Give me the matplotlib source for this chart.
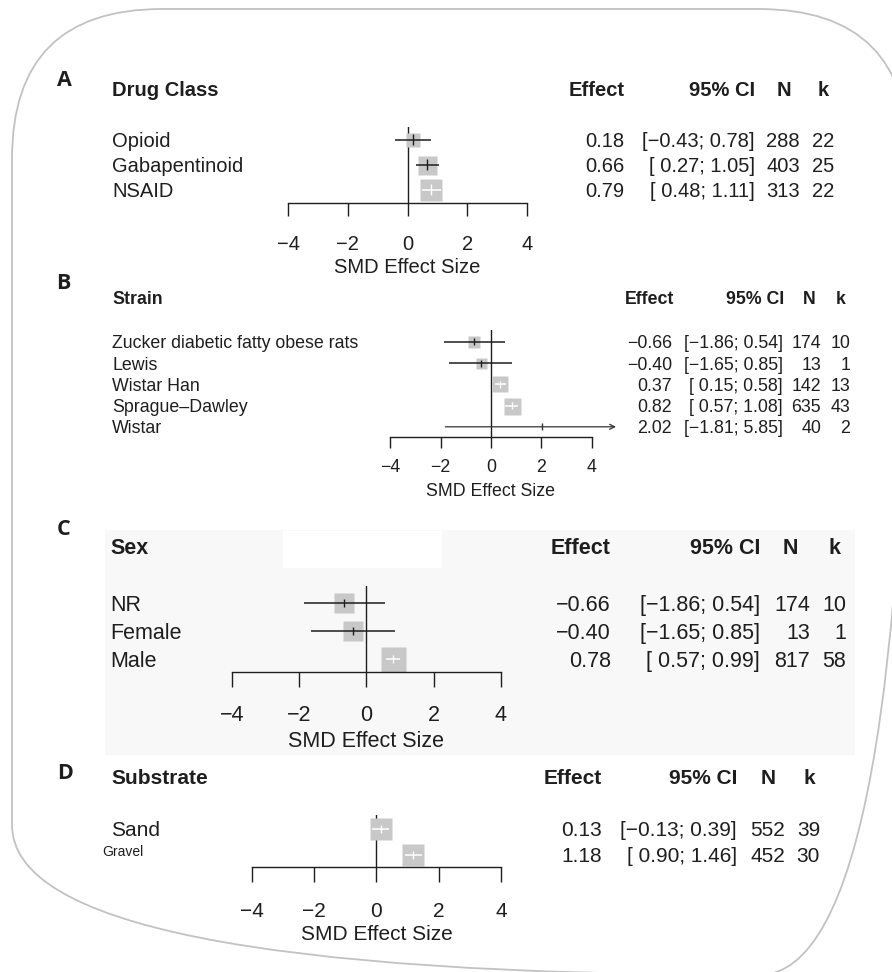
import matplotlib
matplotlib.use('Agg')
import matplotlib.pyplot as plt
from matplotlib.patches import FancyBboxPatch, Rectangle

# ---------------- data ----------------
drug_labels = ['Opioid', 'Gabapentinoid', 'NSAID']
drug_effect = [0.18, 0.66, 0.79]
drug_lower = [-0.43, 0.27, 0.48]
drug_upper = [0.78, 1.05, 1.11]
drug_n = [288, 403, 313]
drug_k = [22, 25, 22]

strain_labels = ['Zucker diabetic fatty obese rats', 'Lewis', 'Wistar Han',
                 'Sprague\u2013Dawley', 'Wistar']
strain_effect = [-0.66, -0.40, 0.37, 0.82, 2.02]
strain_lower = [-1.86, -1.65, 0.15, 0.57, -1.81]
strain_upper = [0.54, 0.85, 0.58, 1.08, 5.85]
strain_n = [174, 13, 142, 635, 40]
strain_k = [10, 1, 13, 43, 2]

sex_labels = ['NR', 'Female', 'Male']
sex_effect = [-0.66, -0.40, 0.78]
sex_lower = [-1.86, -1.65, 0.57]
sex_upper = [0.54, 0.85, 0.99]
sex_n = [174, 13, 817]
sex_k = [10, 1, 58]

sub_labels = ['Sand', 'Gravel']
sub_effect = [0.13, 1.18]
sub_lower = [-0.13, 0.90]
sub_upper = [0.39, 1.46]
sub_n = [552, 452]
sub_k = [39, 30]

x_ticks = [-4, -2, 0, 2, 4]
col_headers = ['Effect', '95% CI', 'N', 'k']
axis_title = 'SMD Effect Size'

# ---------------- style ----------------
W, H = 892, 972
FONT = ['Liberation Sans', 'DejaVu Sans']
LETTER_FONT = ['Open Sans', 'DejaVu Sans']
TXT = '#1e1e1e'
LINE = '#1e1e1e'
SQ = '#c8c8c8'
plt.rcParams['font.family'] = FONT

fig = plt.figure(figsize=(W / 100, H / 100), dpi=100)
ax0 = fig.add_axes([0, 0, 1, 1])
ax0.set_xlim(0, W)
ax0.set_ylim(H, 0)
ax0.axis('off')

# outer rounded frame
ax0.add_patch(FancyBboxPatch((12, 9), 897, 966,
                             boxstyle='round,pad=0,rounding_size=150',
                             fc='none', ec='#c2c2c2', lw=1.3))
# panel C background
ax0.add_patch(Rectangle((105, 530), 750, 225, fc='#f8f8f8', ec='none'))
ax0.add_patch(Rectangle((283, 531), 159, 37, fc='white', ec='none'))


def em(size):
    return size * 100 / 72


def txt(x, yc, s, size, ha='left', weight='normal', family=None, color=TXT):
    ax0.text(x, yc + 0.358 * em(size), s, ha=ha, va='baseline',
             fontsize=size, fontweight=weight, color=color,
             family=family if family else FONT)


def fmt_num(v):
    return f'{v:.2f}'.replace('-', '\u2212')


def fmt_ci(lo, hi):
    return f'[{lo:5.2f}; {hi:4.2f}]'.replace('-', '\u2212')


def panel(sp, title, labels, eff, lo, hi, n, k):
    fs = sp['fs']
    txt(sp['letter'][0], sp['letter'][1], sp['L'], 15.5, weight='bold',
        family=LETTER_FONT)
    txt(sp['lab_x'], sp['head_y'], title, fs, weight='bold')
    hx = sp['head_x']
    txt(hx[0], sp['head_y'], col_headers[0], fs, ha='right', weight='bold')
    txt(hx[1], sp['head_y'], col_headers[1], fs, ha='right', weight='bold')
    txt(hx[2], sp['head_y'], col_headers[2], fs, ha='center', weight='bold')
    txt(hx[3], sp['head_y'], col_headers[3], fs, ha='center', weight='bold')
    cx = sp['col_x']
    for i, lab in enumerate(labels):
        y = sp['row_y0'] + i * sp['row_dy']
        lfs, lx, ly = fs, sp['lab_x'], y
        if lab in sp.get('small', {}):
            lfs, lx, ly = sp['small'][lab]
        txt(lx, ly, lab, lfs)
        txt(cx[0], y, fmt_num(eff[i]), fs, ha='right')
        txt(cx[1], y, fmt_ci(lo[i], hi[i]), fs, ha='right')
        txt(cx[2], y, str(n[i]), fs, ha='right')
        txt(cx[3], y, str(k[i]), fs, ha='right')

    # forest axes
    x0, x1 = sp['xm4'], sp['xp4']
    ytop, yax = sp['vtop'], sp['axis_y']
    ax = fig.add_axes([x0 / W, 1 - yax / H, (x1 - x0) / W, (yax - ytop) / H])
    ax.patch.set_alpha(0)
    y0, dy = sp['row_y0'], sp['row_dy']
    ax.set_xlim(-4, 4)
    ax.set_ylim((yax - y0) / dy, (ytop - y0) / dy)
    for s in ['top', 'left', 'right']:
        ax.spines[s].set_visible(False)
    ax.spines['bottom'].set_color(LINE)
    ax.spines['bottom'].set_linewidth(1.0)
    ax.set_yticks([])
    ax.set_xticks(x_ticks)
    tl = sp['tick_len']
    pad_px = sp['tick_lab_y'] - 0.358 * em(fs) - yax - tl
    ax.tick_params(axis='x', direction='out', length=tl * 0.72, width=1.0,
                   color=LINE, labelcolor=TXT, labelsize=fs, pad=pad_px * 0.72)
    ax.axvline(0, color=LINE, lw=1.0, zorder=1)
    txt((x0 + x1) / 2, sp['xlab_y'], axis_title, fs, ha='center')

    ppu = (x1 - x0) / 8
    clip = sp.get('clip', 4.95)
    for i in range(len(eff)):
        size = sp['sq'][i]
        if size > 0:
            ax.plot(eff[i], i, marker='s', ms=size * 0.72, mfc=SQ, mec='none',
                    zorder=2, clip_on=False)
        white = (hi[i] - lo[i]) * ppu < size
        c = 'white' if white else LINE
        if hi[i] > clip:
            ax.annotate('', xy=(clip, i), xytext=(lo[i], i),
                        arrowprops=dict(arrowstyle='->', lw=0.9, color='#333333',
                                        shrinkA=0, shrinkB=0, mutation_scale=9),
                        annotation_clip=False, zorder=3)
            c = '#333333'
        else:
            ax.hlines(i, lo[i], hi[i], color=c, lw=1.1, zorder=3, clip_on=False)
        th = sp['est_tick'] / dy
        ax.vlines(eff[i], i - th / 2, i + th / 2, color=c, lw=1.0, zorder=3,
                  clip_on=False)


specA = dict(L='A', letter=(57, 78), fs=14.5, lab_x=112, head_y=89,
             head_x=(625, 755, 784, 823), col_x=(624, 755, 800, 834),
             row_y0=140, row_dy=25, xm4=288, xp4=527, vtop=127, axis_y=203,
             tick_len=13, tick_lab_y=242, xlab_y=266, sq=[14, 19, 22],
             est_tick=11)
specB = dict(L='B', letter=(56, 281), fs=12.8, lab_x=112, head_y=298,
             head_x=(674, 784, 809, 841), col_x=(672, 783, 821, 850),
             row_y0=342, row_dy=21.2, xm4=390, xp4=592, vtop=330, axis_y=437,
             tick_len=11, tick_lab_y=465, xlab_y=490, sq=[12, 11, 16, 17, 0],
             est_tick=7)
specC = dict(L='C', letter=(57, 527), fs=15.5, lab_x=110, head_y=546,
             head_x=(611, 760, 790, 834), col_x=(611, 760, 810, 846),
             row_y0=603, row_dy=28, xm4=232, xp4=501, vtop=586, axis_y=672,
             tick_len=15, tick_lab_y=713, xlab_y=739, sq=[20, 20, 25],
             est_tick=8)
specD = dict(L='D', letter=(57, 771), fs=15, lab_x=111, head_y=777,
             head_x=(602, 737, 768, 809), col_x=(602, 737, 785, 820),
             row_y0=829, row_dy=26, xm4=252, xp4=501, vtop=815, axis_y=867,
             tick_len=15, tick_lab_y=909, xlab_y=933, sq=[23, 23],
             est_tick=8, small={'Gravel': (10, 102, 851)})

panel(specA, 'Drug Class', drug_labels, drug_effect, drug_lower, drug_upper,
      drug_n, drug_k)
panel(specB, 'Strain', strain_labels, strain_effect, strain_lower, strain_upper,
      strain_n, strain_k)
panel(specC, 'Sex', sex_labels, sex_effect, sex_lower, sex_upper, sex_n, sex_k)
panel(specD, 'Substrate', sub_labels, sub_effect, sub_lower, sub_upper,
      sub_n, sub_k)

fig.savefig('out.png', dpi=100)
